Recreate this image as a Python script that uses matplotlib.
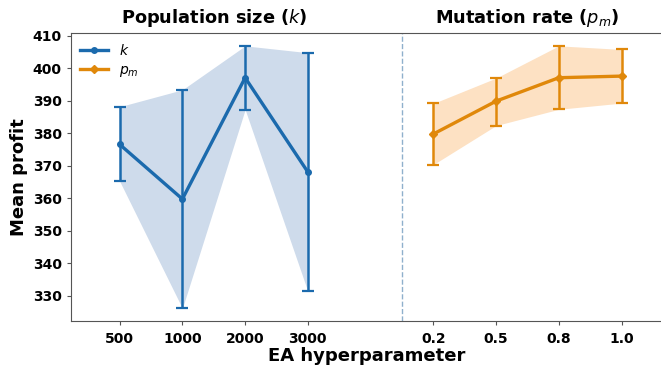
import matplotlib
matplotlib.use("Agg")
import matplotlib.pyplot as plt
import matplotlib.transforms as mtransforms

# population size k
k_labels = ["500", "1000", "2000", "3000"]
k_mean = [376.6, 359.8, 397.1, 368.1]
k_low = [365.3, 326.2, 387.3, 331.4]
k_high = [388.2, 393.4, 406.9, 404.8]

# mutation rate p_m
pm_labels = ["0.2", "0.5", "0.8", "1.0"]
pm_mean = [379.8, 389.9, 397.1, 397.6]
pm_low = [370.4, 382.4, 387.4, 389.3]
pm_high = [389.2, 397.0, 406.9, 405.8]

blue, blue_fill = "#1b6aad", "#cedbeb"
orange, orange_fill = "#e0880a", "#fde1c3"

xk = [0, 1, 2, 3]
xp = [5, 6, 7, 8]

fig = plt.figure(figsize=(6.61, 3.69), dpi=100)
ax = fig.add_axes([0.107, 0.130, 0.895, 0.781])

ax.fill_between(xk, k_low, k_high, color=blue_fill, lw=0)
ax.fill_between(xp, pm_low, pm_high, color=orange_fill, lw=0)

k_err = [[m - l for m, l in zip(k_mean, k_low)], [h - m for m, h in zip(k_mean, k_high)]]
pm_err = [[m - l for m, l in zip(pm_mean, pm_low)], [h - m for m, h in zip(pm_mean, pm_high)]]
ax.errorbar(xk, k_mean, yerr=k_err, color=blue, lw=2.4, marker="o", ms=4,
            capsize=4, capthick=1.6, elinewidth=1.8)
ax.errorbar(xp, pm_mean, yerr=pm_err, color=orange, lw=2.4, marker="D", ms=4,
            capsize=4, capthick=1.6, elinewidth=1.8)

# legend proxies (line + marker only)
ax.plot([], [], color=blue, lw=2.4, marker="o", ms=4, label="$k$")
ax.plot([], [], color=orange, lw=2.4, marker="D", ms=4, label="$p_m$")
ax.legend(loc="upper left", frameon=False, fontsize=10, handlelength=2.0,
          borderaxespad=0.3, labelspacing=0.4)

ax.axvline(4.5, color="#8fb0cc", lw=1, ls="--")

ax.set_xlim(-0.78, 8.65)
ax.set_ylim(322.3, 410.9)
ax.set_xticks(xk + xp)
ax.set_xticklabels(k_labels + pm_labels, fontweight="bold", fontsize=10)
ax.set_yticks(range(330, 411, 10))
ax.tick_params(axis="y", labelsize=10, length=3, color="#555555")
ax.tick_params(axis="x", length=3, pad=5, color="#555555")
for lab in ax.get_yticklabels():
    lab.set_fontweight("bold")
for s in ["left", "bottom", "top"]:
    ax.spines[s].set_color("#555555")
ax.spines["right"].set_visible(False)

ax.set_xlabel("EA hyperparameter", fontsize=13, fontweight="bold", labelpad=0.5)
ax.set_ylabel("Mean profit", fontsize=13, fontweight="bold", labelpad=3)

trans = mtransforms.blended_transform_factory(ax.transData, ax.transAxes)
ax.text(1.5, 1.014, "Population size ($k$)", transform=trans, ha="center",
        va="bottom", fontsize=12.8, fontweight="bold")
ax.text(6.5, 1.014, "Mutation rate ($p_m$)", transform=trans, ha="center",
        va="bottom", fontsize=12.8, fontweight="bold")

fig.savefig("out.png", dpi=100)
